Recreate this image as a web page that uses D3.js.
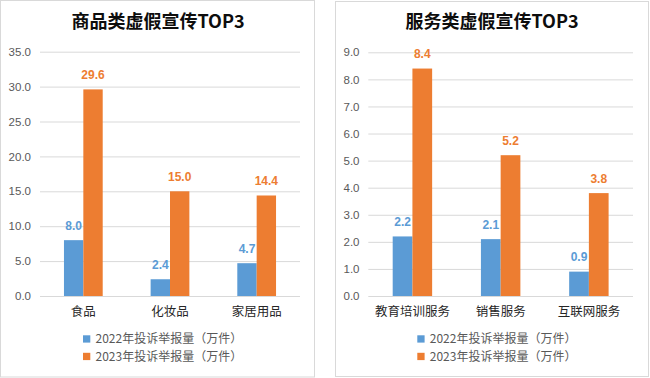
<!DOCTYPE html>
<html><head><meta charset="utf-8">
<script src="https://cdn.jsdelivr.net/npm/d3@7"></script>
<style>
html,body{margin:0;padding:0;background:#fff;}
svg{display:block;}
</style>
</head><body>
<svg id="c" width="650" height="378"></svg>
<script>
const seriesNames = ["2022年投诉举报量（万件）", "2023年投诉举报量（万件）"];
const colors = ["#5B9BD5", "#ED7D31"];

const goodsTitle = "商品类虚假宣传TOP3";
const goodsCats = ["食品", "化妆品", "家居用品"];
const goods2022 = [8.0, 2.4, 4.7];
const goods2023 = [29.6, 15.0, 14.4];
const goodsTicks = [0, 5, 10, 15, 20, 25, 30, 35];

const servTitle = "服务类虚假宣传TOP3";
const servCats = ["教育培训服务", "销售服务", "互联网服务"];
const serv2022 = [2.2, 2.1, 0.9];
const serv2023 = [8.4, 5.2, 3.8];
const servTicks = [0, 1, 2, 3, 4, 5, 6, 7, 8, 9];

const svg = d3.select("#c");
const numFont = "'Liberation Sans', Arial, sans-serif";
const cjkFont = "'Noto Sans CJK SC', 'Microsoft YaHei', sans-serif";

function panel(cfg) {
  const g = svg.append("g");
  g.append("rect").attr("x", cfg.box[0]).attr("y", cfg.box[1])
    .attr("width", cfg.box[2]).attr("height", cfg.box[3])
    .attr("fill", "#fff").attr("stroke", "#D9D9D9").attr("stroke-width", 1);

  g.append("text").attr("x", cfg.titleX).attr("y", 28)
    .attr("text-anchor", "middle").attr("font-family", cjkFont)
    .attr("font-weight", "bold").attr("font-size", 18).attr("fill", "#0D0D0D")
    .text(cfg.title);

  const y = d3.scaleLinear().domain([0, cfg.ticks[cfg.ticks.length - 1]]).range([296, cfg.top]);
  const x0 = d3.scaleBand().domain(cfg.cats).range([cfg.left, cfg.right]).padding(0);
  const gw = x0.bandwidth() * 0.447;
  const x1 = d3.scaleBand().domain([0, 1]).range([0, gw]).padding(0);

  // gridlines
  const yAxis = d3.axisLeft(y).tickValues(cfg.ticks).tickSize(-(cfg.right - cfg.left))
    .tickFormat(d3.format(".1f")).tickPadding(cfg.left - cfg.tickEnd);
  const ya = g.append("g").attr("transform", `translate(${cfg.left},0)`).call(yAxis);
  ya.select(".domain").remove();
  ya.selectAll("line").attr("stroke", "#D9D9D9");
  ya.selectAll("text").attr("font-family", numFont).attr("font-size", 11.5).attr("fill", "#595959");

  const data = [cfg.v22, cfg.v23];
  data.forEach((vals, si) => {
    g.append("g").selectAll("rect").data(vals).join("rect")
      .attr("x", (d, i) => x0(cfg.cats[i]) + (x0.bandwidth() - gw) / 2 + x1(si))
      .attr("width", x1.bandwidth())
      .attr("y", d => y(d))
      .attr("height", d => y(0) - y(d))
      .attr("fill", colors[si]);
    g.append("g").selectAll("text").data(vals).join("text")
      .attr("x", (d, i) => x0(cfg.cats[i]) + (x0.bandwidth() - gw) / 2 + x1(si) + x1.bandwidth() / 2)
      .attr("y", d => y(d) - 10.5)
      .attr("text-anchor", "middle").attr("font-family", numFont)
      .attr("font-weight", "bold").attr("font-size", 12).attr("fill", colors[si])
      .text(d => d3.format(".1f")(d));
  });

  const xAxis = d3.axisBottom(x0).tickSize(0).tickPadding(0);
  const xa = g.append("g").attr("transform", `translate(0,296)`).call(xAxis);
  xa.select(".domain").remove();
  xa.selectAll("text").attr("font-family", cjkFont).attr("font-size", 12.5)
    .attr("fill", "#262626").attr("dy", null).attr("y", 20);

  const lg = g.append("g");
  seriesNames.forEach((n, i) => {
    const yy = 339 + i * 17.5;
    lg.append("rect").attr("x", cfg.legX).attr("y", yy - 3.7).attr("width", 7.3).attr("height", 7.3).attr("fill", colors[i]);
    lg.append("text").attr("x", cfg.legX + 12.5).attr("y", yy + 4.2)
      .attr("font-family", cjkFont).attr("font-size", 12).attr("fill", "#595959").text(n);
  });
}

panel({box: [0.5, 0.5, 314, 376.5], title: goodsTitle, titleX: 158, cats: goodsCats,
  v22: goods2022, v23: goods2023, ticks: goodsTicks, top: 51.7, left: 40, right: 300,
  tickEnd: 31, legX: 83});
panel({box: [335.5, 1.5, 313, 375], title: servTitle, titleX: 492, cats: servCats,
  v22: serv2022, v23: serv2023, ticks: servTicks, top: 52.3, left: 368.3, right: 633,
  tickEnd: 359.5, legX: 417.3});
</script>
</body></html>
